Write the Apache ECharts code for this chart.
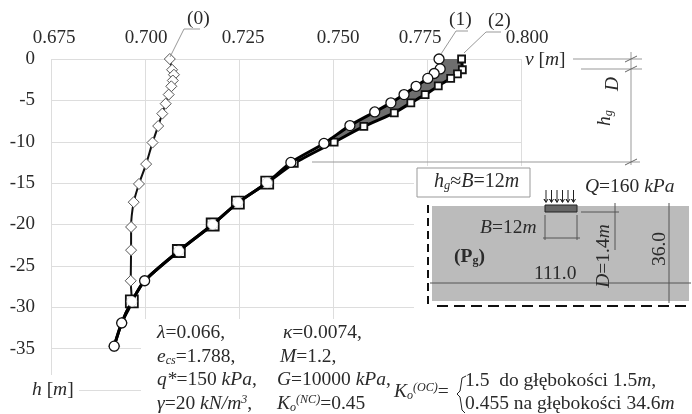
<!DOCTYPE html>
<html><head><meta charset="utf-8">
<style>html,body{margin:0;padding:0;background:#fff}#c{width:692px;height:414px;filter:blur(0.45px)}</style>
<script src="https://cdn.jsdelivr.net/npm/echarts@6/dist/echarts.min.js"></script>
</head><body><div id="c"></div>
<script>
const xTicks = [0.675,0.700,0.725,0.750,0.775,0.800];
const yTicks = [0,-5,-10,-15,-20,-25,-30,-35,-40];
const curve0V = [.7066,.7072,.7077,.7074,.7070,.7063,.7055,.7046,.7035,.7020,.7003,.6984,.6970,.6963,.6963,.6962,.6965,.6938,.6918];
const curve0H = [0,-1.3,-1.9,-2.6,-3.3,-4.3,-5.4,-6.6,-8.1,-10.1,-12.7,-15.1,-17.3,-20.3,-23.1,-26.8,-29.3,-31.9,-34.7];
const curve1V = [.7782,.7785,.7769,.7752,.7721,.7689,.7654,.7611,.7545,.7476,.7388,.7325,.7247,.7180,.7090,.6999,.6965,.6938,.6918];
const curve1H = [0,-1.2,-1.75,-2.35,-3.3,-4.3,-5.3,-6.4,-8.05,-10.2,-12.5,-14.95,-17.35,-20,-23.2,-26.8,-29.3,-31.9,-34.7];
const curve2V = [.7842,.7844,.7831,.7813,.7780,.7745,.7707,.7663,.7582,.7503,.7397,.7325,.7247,.7180,.7090,.6999,.6965,.6938,.6918];
const curve2H = [0,-1.3,-1.8,-2.35,-3.25,-4.3,-5.3,-6.5,-8.15,-10.05,-12.6,-14.95,-17.35,-20,-23.2,-26.8,-29.3,-31.9,-34.7];
const zip = (a,b)=>a.map((v,i)=>[v,b[i]]);
const F = '"Liberation Serif"';
const INK = '#2a2a2a';
const c = echarts.init(document.getElementById('c'),null,{renderer:'canvas'});
const rich=s=>({i:{fontFamily:F,fontStyle:'italic',fontSize:s,fill:INK},
  sub:{fontFamily:F,fontStyle:'italic',fontSize:s*.62,verticalAlign:'bottom',fill:INK,padding:[s*.35,0,0,0]},
  sup:{fontFamily:F,fontStyle:'italic',fontSize:s*.62,verticalAlign:'top',fill:INK,padding:[0,0,s*.35,0]},
  bsub:{fontFamily:F,fontWeight:'bold',fontSize:s*.62,verticalAlign:'bottom',fill:INK,padding:[s*.35,0,0,0]},
  b:{fontFamily:F,fontWeight:'bold',fontSize:s,fill:INK}});
const txt=(x,y,text,o={})=>({type:'text',z:20,x,y,rotation:o.rot||0,style:{text,fill:INK,font:`${o.size||19.5}px ${F}`,align:o.align||'left',verticalAlign:'middle',rich:rich(o.size||19.5)}});
const ln=(pts,col='#999',w=1,dash)=>({type:'polyline',z:15,shape:{points:pts},style:{stroke:col,lineWidth:w,fill:null,lineDash:dash||null}});
const box=(x,y,w,h,fill,stroke,z=12)=>({type:'rect',z,shape:{x,y,width:w,height:h},style:{fill,stroke:stroke||null,lineWidth:1}});
const tick=(x,y)=>ln([[x-6,y+3],[x+6,y-3]],'#666',1);
const arrows=[546,551.5,557,562.5,568,573.5].map(x=>ln([[x,190],[x,202],[x-2,199],[x,202.5],[x+2,199]],'#222',1));
const graphics=[
 box(141,319,551,95,'#fff',null,10), box(414,166,278,153,'#fff',null,10), box(36,375,43,39,'#fff',null,10),
 ln([[170,57],[184,29],[200,29]]), ln([[441,54],[456,31],[468,31]]), ln([[464,53],[486,32],[501,32]]),
 txt(187,19,'(0)'), txt(449,20,'(1)'), txt(488,21,'(2)'),
 txt(525,60,'{i|v} [{i|m}]'), txt(32,390,'{i|h} [{i|m}]'),
 ln([[573,59],[642,59]]), ln([[581,69],[642,69]]), ln([[631,52],[631,165]]), ln([[312,162],[640,162]]),
 tick(631,59), tick(631,69), tick(631,162),
 txt(613,84,'{i|D}',{rot:Math.PI/2,align:'center'}), txt(605,118,'{i|h}{sub|g}',{rot:Math.PI/2,align:'center'}),
 box(417,168,113,29,'#fff','#999',13), txt(434,182,'{i|h}{sub|g}≈{i|B}=12{i|m}',{size:20}),
 txt(585,187,'{i|Q}=160 {i|kPa}'),
 box(432,206,257,95,'#bbb',null,12),
 box(545,205,32,7,'#666','#222',14), ...arrows,
 ln([[428,205],[428,307]],'#111',2,[8,5]), ln([[437,306],[689,306]],'#111',2,[11,6]),
 ln([[430,283],[691,283]],'#555'), ln([[669,203],[669,303]],'#555'),
 ln([[581,212],[619,212]],'#555'), ln([[615,203],[615,250]],'#555'),
 ln([[545,215],[545,240]],'#555'), ln([[577,215],[577,240]],'#555'), ln([[543,238],[580,238]],'#555'),
 txt(480,228,'{i|B}=12{i|m}'), txt(454,257,'{b|(P}{bsub|g}{b|)}'), txt(534,274,'111.0'),
 txt(604,256,'{i|D}=1.4{i|m}',{rot:Math.PI/2,align:'center'}), txt(660,249,'36.0',{rot:Math.PI/2,align:'center'}),
 txt(157,333,'{i|λ}=0.066,'), txt(157,357,'{i|e}{sub|cs}=1.788,'), txt(157,380,'{i|q*}=150 {i|kPa},'), txt(157,404,'{i|γ}=20 {i|kN/m}{sup|3},'),
 txt(283,333,'{i|κ}=0.0074,'), txt(280,357,'{i|M}=1.2,'), txt(277,380,'{i|G}=10000 {i|kPa},'), txt(277,404,'{i|K}{sub|o}{sup|(NC)}=0.45'),
 txt(394,392,'{i|K}{sub|o}{sup|(OC)}='),
 ln([[466,376],[462,378],[461,385],[460,391],[457,394],[460,397],[461,403],[462,410],[465,413]],'#222'),
 txt(465,381,'1.5  do głębokości 1.5{i|m},'), txt(465,404,'0.455 na głębokości 34.6{i|m}')
];
const labelPad={a:[0,0,0,6],b:[0,0,0,2],c:[0,0,0,8],d:[0,0,0,10],e:[0,14,0,0],f:[0,0,0,12]};
const labelRich={};
Object.keys(labelPad).forEach(k=>labelRich[k]={fontFamily:F,fontSize:19,color:INK,padding:labelPad[k]});
const hiddenSquareDepths=[-26.8,-31.9,-34.7];
const isBigSquare=h=>h<-14&&!hiddenSquareDepths.includes(h);
c.setOption({
 animation:false,
 backgroundColor:'#fff',
 grid:{left:51,top:59,width:470,height:331},
 xAxis:{type:'value',position:'top',min:xTicks[0],max:xTicks[xTicks.length-1],interval:0.025,
  axisLine:{show:false},axisTick:{show:false},splitLine:{show:true,lineStyle:{color:'#ddd',width:1}},
  axisLabel:{fontFamily:F,fontSize:19,color:INK,margin:11,rich:labelRich,
   formatter:v=>{const i=Math.round((v-xTicks[0])/0.025);return '{'+'abcdef'[i]+'|'+v.toFixed(3)+'}';}}},
 yAxis:{type:'value',min:yTicks[yTicks.length-1],max:yTicks[0],interval:5,
  axisLine:{show:false},axisTick:{show:false},splitLine:{show:true,lineStyle:{color:'#ddd',width:1}},
  axisLabel:{fontFamily:F,fontSize:19,color:INK,margin:16,formatter:v=>v===-40?'':String(v)}},
 graphic:graphics,
 series:[
  {type:'custom',z:1,coordinateSystem:'cartesian2d',data:[[curve1V[0],curve1H[0]]],clip:false,
   renderItem:(p,api)=>{
     const n=10, pts=[];
     for(let i=0;i<n;i++)pts.push(api.coord([curve1V[i],curve1H[i]]));
     for(let i=n-1;i>=0;i--)pts.push(api.coord([curve2V[i],curve2H[i]]));
     return {type:'polygon',shape:{points:pts},style:{fill:'#6e6e6e'}};
   }},
  {type:'line',z:2,data:zip(curve0V,curve0H),smooth:.25,symbol:'diamond',symbolSize:11,showAllSymbol:true,
   lineStyle:{color:'#111',width:2},itemStyle:{color:'#fff',borderColor:'#555',borderWidth:1}},
  {type:'line',z:3,data:zip(curve2V,curve2H),smooth:.25,symbol:'rect',
   symbolSize:v=>hiddenSquareDepths.includes(v[1])?5:(v[1]<-14?12:7),showAllSymbol:true,
   lineStyle:{color:'#000',width:3},itemStyle:{color:'#fff',borderColor:'#111',borderWidth:1.8}},
  {type:'line',z:4,smooth:.25,symbol:'circle',symbolSize:10,showAllSymbol:true,
   data:zip(curve1V,curve1H).map(p=>isBigSquare(p[1])?{value:p,itemStyle:{borderColor:'#ccc',borderWidth:.6}}:{value:p}),
   lineStyle:{color:'#000',width:3},itemStyle:{color:'#fff',borderColor:'#111',borderWidth:1.3}}
 ]
});
</script></body></html>
